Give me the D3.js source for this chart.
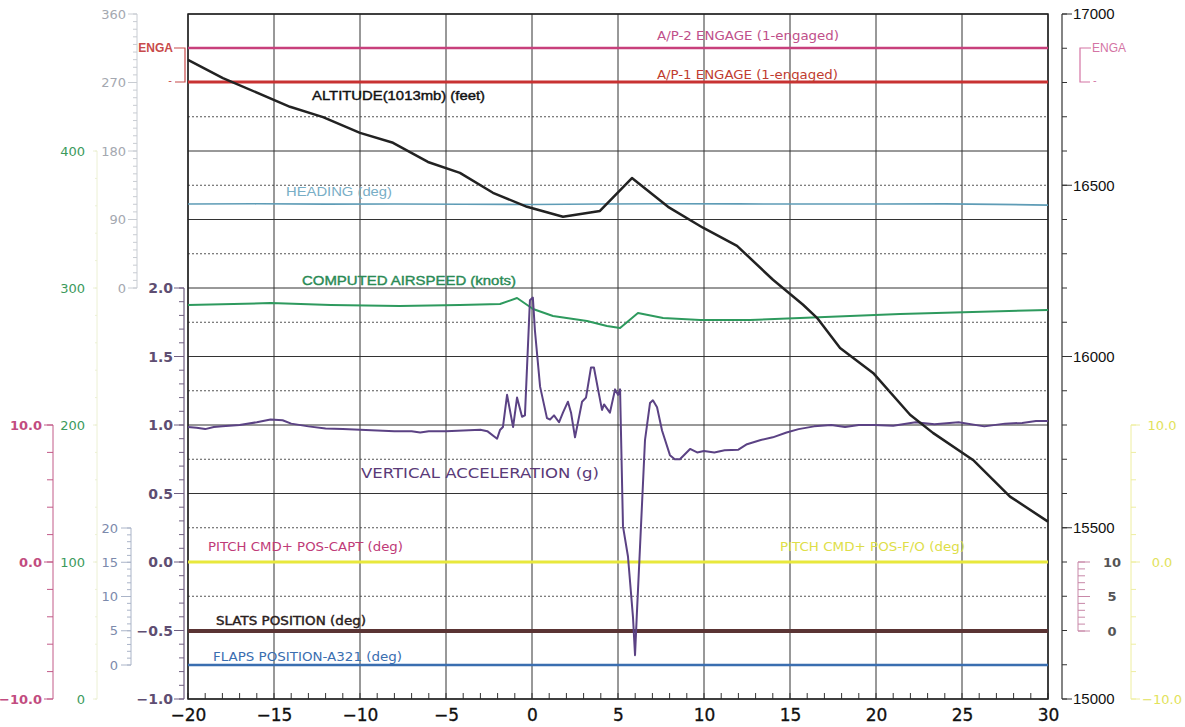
<!DOCTYPE html>
<html>
<head>
<meta charset="utf-8">
<script src="https://cdn.jsdelivr.net/npm/d3@7"></script>
<style>
  body { margin: 0; background: #fff; }
  svg { display: block; }
</style>
</head>
<body>
<script>
// time from event (s)
const timeTicks = [-20, -15, -10, -5, 0, 5, 10, 15, 20, 25, 30];

// ALTITUDE(1013mb) (feet)
const altTime  = [-20, -17.97, -14.07, -12.15, -10, -8.08, -6.05, -4.19, -2.27, -0.29, 1.8, 3.95, 5.81, 7.91, 9.94, 11.92, 14.01, 15.76, 16.57, 17.91, 19.83, 21.98, 23.31, 25.64, 27.79, 30];
const altValue = [16866, 16813, 16729, 16699, 16653, 16624, 16568, 16536, 16478, 16437, 16408, 16425, 16521, 16437, 16376, 16323, 16224, 16151, 16113, 16025, 15952, 15830, 15777, 15698, 15591, 15518];

// HEADING (deg)
const hdgTime  = [-20, -16, -12, -8, -4, 0, 4, 8, 12, 16, 20, 24, 27, 30];
const hdgValue = [110.3, 110.6, 110.2, 110.4, 110.0, 109.8, 110.3, 110.6, 110.5, 110.3, 110.4, 110.5, 109.9, 108.9];

// COMPUTED AIRSPEED (knots)
const spdTime  = [-20, -15.2, -11.7, -7.7, -4.2, -1.86, -0.87, 0.06, 1.22, 3.2, 4.36, 5.12, 6.16, 7.62, 9.77, 12.67, 15.58, 21.4, 30];
const spdValue = [287.6, 289, 287.6, 286.9, 287.6, 288.3, 292.7, 284.7, 279.6, 275.9, 272.3, 270.8, 281.8, 278.1, 276.6, 276.6, 278.1, 281, 284];

// VERTICAL ACCELERATION (g)
const accTime = [-20, -19.5, -19, -18.5, -18, -17, -16, -15.2, -14.5, -14, -13, -12, -11, -10, -9, -8, -7, -6.5, -6, -5, -4, -3, -2.6,
  -2.03, -1.86, -1.69, -1.45, -1.10, -0.87, -0.58, -0.41, -0.12, 0.05, 0.17, 0.47, 0.87, 1.05, 1.28, 1.57, 1.80, 2.09, 2.27, 2.50,
  2.91, 3.14, 3.43, 3.60, 3.84, 4.07, 4.19, 4.53, 4.83, 5.0, 5.12, 5.29, 5.58, 5.87, 5.99, 6.10, 6.28, 6.57, 6.86, 7.03, 7.27, 7.56,
  8.02, 8.3, 8.6, 9.19, 9.6, 10, 10.6, 11.2, 12, 12.5, 13.3, 14, 14.8, 15.5, 16.4, 17.4, 18.2, 19, 19.9, 21, 22.3, 23.4, 24.8, 26.3,
  27.5, 28.5, 29.3, 30];
const accValue = [0.985, 0.98, 0.97, 0.985, 0.99, 1.0, 1.02, 1.04, 1.035, 1.01, 0.99, 0.975, 0.97, 0.965, 0.96, 0.955, 0.955, 0.945, 0.955, 0.955, 0.96, 0.965, 0.955,
  0.90, 0.963, 0.985, 1.22, 0.985, 1.20, 1.06, 1.07, 1.91, 1.93, 1.69, 1.28, 1.05, 1.04, 1.07, 1.02, 1.09, 1.17, 1.09, 0.91,
  1.17, 1.20, 1.42, 1.42, 1.26, 1.11, 1.15, 1.09, 1.26, 1.22, 1.26, 0.26, 0.04, -0.40, -0.68, -0.37, 0.11, 0.89, 1.16, 1.18, 1.13, 0.96,
  0.78, 0.75, 0.75, 0.825, 0.80, 0.81, 0.80, 0.815, 0.82, 0.86, 0.89, 0.91, 0.945, 0.97, 0.99, 1.0, 0.985, 1.0, 1.0, 0.995, 1.02, 1.005, 1.02, 0.99,
  1.01, 1.015, 1.03, 1.03];

// constant discrete traces (start, end values)
const ap2Engage = [1, 1];       // A/P-2 ENGAGE
const ap1Engage = [0, 0];       // A/P-1 ENGAGE
const pitchCapt = [0, 0];       // PITCH CMD+ POS-CAPT (deg)
const pitchFO   = [0, 0];       // PITCH CMD+ POS-F/O (deg)
const slatsPos  = [0, 0];       // SLATS POSITION (deg)
const flapsPos  = [0, 0];       // FLAPS POSITION-A321 (deg)

// axis tick labels
const altTicks   = [15000, 15500, 16000, 16500, 17000];
const accTicks   = [-1.0, -0.5, 0.0, 0.5, 1.0, 1.5, 2.0];
const hdgTicks   = [0, 90, 180, 270, 360];
const spdTicks   = [0, 100, 200, 300, 400];
const pitchTicks = [-10, 0, 10];
const flapTicks  = [0, 5, 10, 15, 20];
const slatTicks  = [0, 5, 10];

const width = 1185, height = 727;
const plot = { left: 188, right: 1048, top: 14, bottom: 699 };

const svg = d3.select('body').append('svg')
    .attr('width', width)
    .attr('height', height);

svg.append('rect').attr('width', width).attr('height', height).attr('fill', '#fff');

// scales
const x = d3.scaleLinear().domain([-20, 30]).range([plot.left, plot.right]);
const yAlt = d3.scaleLinear().domain([15000, 17000]).range([plot.bottom, plot.top]);
const yAcc = d3.scaleLinear().domain([-1, 2]).range([699, 288]);
const yHdg = d3.scaleLinear().domain([0, 360]).range([288, 14]);
const ySpd = d3.scaleLinear().domain([0, 400]).range([699, 151]);
const yPitch = d3.scaleLinear().domain([-10, 10]).range([699, 425]);
const yFlap = d3.scaleLinear().domain([0, 20]).range([665, 528]);
const ySlat = d3.scaleLinear().domain([0, 10]).range([631, 562]);
const yEng = d3.scaleLinear().domain([0, 1]).range([82, 48]);

// grid
const grid = svg.append('g');
d3.range(15000, 17001, 100).forEach(v => {
    const solid = v % 200 === 0;
    grid.append('line')
        .attr('x1', plot.left).attr('x2', plot.right)
        .attr('y1', yAlt(v)).attr('y2', yAlt(v))
        .attr('stroke', solid ? '#333' : '#555')
        .attr('stroke-width', 1)
        .attr('stroke-dasharray', solid ? null : '2,2');
});
timeTicks.forEach(t => {
    grid.append('line')
        .attr('x1', x(t)).attr('x2', x(t))
        .attr('y1', plot.top).attr('y2', plot.bottom)
        .attr('stroke', '#333').attr('stroke-width', 1);
});
// small second ticks on the bottom edge
d3.range(-20, 31, 1).forEach(t => {
    grid.append('line')
        .attr('x1', x(t)).attr('x2', x(t))
        .attr('y1', plot.bottom - 6).attr('y2', plot.bottom)
        .attr('stroke', '#333');
});
grid.append('rect')
    .attr('x', plot.left).attr('y', plot.top)
    .attr('width', plot.right - plot.left).attr('height', plot.bottom - plot.top)
    .attr('fill', 'none').attr('stroke', '#222').attr('stroke-width', 1.5);

// x axis labels
svg.append('g')
    .attr('transform', `translate(0,${plot.bottom})`)
    .call(d3.axisBottom(x).tickValues(timeTicks).tickSize(0).tickPadding(10).tickFormat(d3.format('d')))
    .call(g => g.select('.domain').remove())
    .selectAll('text')
    .attr('font-family', 'DejaVu Sans, Verdana, sans-serif')
    .attr('font-size', 17)
    .attr('fill', '#111')
    .attr('stroke', '#111')
    .attr('stroke-width', 0.3);

// generic vertical axis
function vAxis(opt) {
    const g = svg.append('g').attr('transform', `translate(${opt.x},0)`);
    const dir = opt.side === 'left' ? -1 : 1;
    const [y0, y1] = opt.scale.range();
    g.append('line').attr('x1', 0).attr('x2', 0).attr('y1', y0).attr('y2', y1)
        .attr('stroke', opt.lineColor).attr('stroke-width', opt.lineWidth || 1);
    if (opt.minor) {
        opt.minor.forEach(v => {
            g.append('line').attr('x1', 0).attr('x2', dir * opt.minorLen)
                .attr('y1', opt.scale(v)).attr('y2', opt.scale(v))
                .attr('stroke', opt.lineColor).attr('stroke-width', 1);
        });
    }
    opt.ticks.forEach(v => {
        g.append('line').attr('x1', 0).attr('x2', dir * opt.majorLen)
            .attr('y1', opt.scale(v)).attr('y2', opt.scale(v))
            .attr('stroke', opt.lineColor).attr('stroke-width', 1);
    });
    g.selectAll('text.lbl').data(opt.ticks).enter().append('text')
        .attr('class', 'lbl')
        .attr('x', opt.labelX)
        .attr('y', d => opt.scale(d))
        .attr('dy', '0.36em')
        .attr('text-anchor', opt.anchor)
        .attr('font-family', opt.font || 'DejaVu Sans, Verdana, sans-serif')
        .attr('font-size', opt.size)
        .attr('font-weight', opt.weight || 'normal')
        .attr('fill', opt.color)
        .text(opt.fmt);
    return g;
}

// left: vertical acceleration
vAxis({ scale: yAcc, x: 184, side: 'left', ticks: accTicks, minor: d3.range(-1, 2.001, 0.1),
    majorLen: 10, minorLen: 5, labelX: -11, anchor: 'end', size: 14, weight: 'bold',
    color: '#5e4e72', lineColor: '#6e5e80', lineWidth: 1.2, fmt: d3.format('.1f') });

// left: heading
vAxis({ scale: yHdg, x: 137, side: 'left', ticks: hdgTicks, minor: d3.range(0, 361, 10),
    majorLen: 9, minorLen: 4, labelX: -11, anchor: 'end', size: 13,
    color: '#a4a8b0', lineColor: '#c8ccd2', fmt: d3.format('d') });

// left: airspeed
vAxis({ scale: ySpd, x: 97, side: 'left', ticks: spdTicks, minor: d3.range(0, 401, 20),
    majorLen: 4, minorLen: 2, labelX: -12, anchor: 'end', size: 13,
    color: '#3c9a5c', lineColor: '#ecf0d4', fmt: d3.format('d') });

// left: pitch cmd capt
vAxis({ scale: yPitch, x: 53, side: 'left', ticks: pitchTicks, minor: d3.range(-10, 10.1, 2),
    majorLen: 9, minorLen: 6, labelX: -11, anchor: 'end', size: 13, weight: 'bold',
    color: '#c24c80', lineColor: '#c25a88', fmt: d3.format('.1f') });

// left: flaps
vAxis({ scale: yFlap, x: 131, side: 'left', ticks: flapTicks, minor: d3.range(0, 20.1, 1),
    majorLen: 10, minorLen: 4, labelX: -13, anchor: 'end', size: 13,
    color: '#7c8aac', lineColor: '#aab4c8', fmt: d3.format('d') });

// right: altitude
vAxis({ scale: yAlt, x: 1062, side: 'right', ticks: altTicks, minor: d3.range(15000, 17001, 100),
    majorLen: 10, minorLen: 5, labelX: 11, anchor: 'start', size: 15, font: 'Liberation Sans, Arial, sans-serif',
    color: '#111', lineColor: '#333', lineWidth: 1.2, fmt: d3.format('d') });

// right: slats
vAxis({ scale: ySlat, x: 1078, side: 'right', ticks: slatTicks, minor: d3.range(0, 10.1, 1),
    majorLen: 12, minorLen: 7, labelX: 34, anchor: 'middle', size: 13, weight: 'bold',
    color: '#555', lineColor: '#c888a8', fmt: d3.format('d') });

// right: pitch cmd f/o
vAxis({ scale: yPitch, x: 1131, side: 'right', ticks: pitchTicks, minor: d3.range(-10, 10.1, 2),
    majorLen: 9, minorLen: 5, labelX: 31, anchor: 'middle', size: 13,
    color: '#e2e25a', lineColor: '#eeeea0', fmt: d3.format('.1f') });

// ENGA brackets
function engaBracket(xLine, dir, color, weight) {
    const g = svg.append('g');
    g.append('path')
        .attr('d', `M${xLine + dir * 11},${yEng(1)}H${xLine}V${yEng(0)}H${xLine + dir * 10}`)
        .attr('fill', 'none').attr('stroke', color).attr('stroke-width', 1.2);
    g.append('text')
        .attr('x', xLine + dir * 12).attr('y', yEng(1)).attr('dy', '0.36em')
        .attr('text-anchor', dir < 0 ? 'end' : 'start')
        .attr('font-family', 'Liberation Sans, Arial, sans-serif')
        .attr('font-size', 12).attr('font-weight', weight)
        .attr('fill', color).text('ENGA');
    g.append('text')
        .attr('x', xLine + dir * 13).attr('y', yEng(0) - 2).attr('dy', '0.36em')
        .attr('text-anchor', dir < 0 ? 'end' : 'start')
        .attr('font-family', 'Liberation Sans, Arial, sans-serif')
        .attr('font-size', 11).attr('fill', color).text('-');
}
engaBracket(185, -1, '#c84a4a', 'bold');
engaBracket(1080, 1, '#d474a4', 'normal');

// traces
const lines = svg.append('g').attr('fill', 'none').attr('stroke-linejoin', 'round');
function trace(times, values, yScale, color, w) {
    const pts = times.map((t, i) => [x(t), yScale(values[i])]);
    lines.append('path')
        .attr('d', d3.line()(pts))
        .attr('stroke', color).attr('stroke-width', w);
}
const ends = [-20, 30];
trace(ends, flapsPos, yFlap, '#3a6eb0', 2.5);
trace(ends, slatsPos, ySlat, '#5a3434', 4);
trace(ends, pitchCapt, yPitch, '#c84080', 2);
trace(ends, pitchFO, yPitch, '#e8e83c', 3);
trace(ends, ap1Engage, yEng, '#c83232', 3);
trace(ends, ap2Engage, yEng, '#c8407c', 2.5);
trace(hdgTime, hdgValue, yHdg, '#5e9cb6', 1.6);
trace(spdTime, spdValue, ySpd, '#2e9a5e', 2);
trace(accTime, accValue, yAcc, '#5b4284', 2);
trace(altTime, altValue, yAlt, '#222', 2.5);

// series labels
const labels = [
    { text: 'A/P-2 ENGAGE (1-engaged)', x: 657, y: 40, w: 182, color: '#c0508a', size: 12, font: 'DejaVu Sans, Verdana, sans-serif' },
    { text: 'A/P-1 ENGAGE (1-engaged)', x: 657, y: 79, w: 181, color: '#c03c30', size: 12, font: 'DejaVu Sans, Verdana, sans-serif' },
    { text: 'ALTITUDE(1013mb) (feet)', x: 312, y: 100, w: 173, color: '#111', size: 13, font: 'Liberation Sans, Arial, sans-serif', bold: true },
    { text: 'HEADING (deg)', x: 286, y: 196, w: 106, color: '#78aec6', size: 12, font: 'Liberation Sans, Arial, sans-serif' },
    { text: 'COMPUTED AIRSPEED (knots)', x: 302, y: 285, w: 214, color: '#2a8a55', size: 13, font: 'Liberation Sans, Arial, sans-serif', bold: true },
    { text: 'VERTICAL ACCELERATION (g)', x: 361, y: 478, w: 238, color: '#5a3a78', size: 14, font: 'DejaVu Sans, Verdana, sans-serif' },
    { text: 'PITCH CMD+ POS-CAPT (deg)', x: 208, y: 551, w: 195, color: '#c03a78', size: 12, font: 'DejaVu Sans, Verdana, sans-serif' },
    { text: 'PITCH CMD+ POS-F/O (deg)', x: 780, y: 551, w: 185, color: '#dede48', size: 12, font: 'DejaVu Sans, Verdana, sans-serif' },
    { text: 'SLATS POSITION (deg)', x: 216, y: 625, w: 150, color: '#2a2020', size: 12, font: 'DejaVu Sans, Verdana, sans-serif', bold: true },
    { text: 'FLAPS POSITION-A321 (deg)', x: 213, y: 661, w: 189, color: '#3a6eb0', size: 12, font: 'DejaVu Sans, Verdana, sans-serif' }
];
svg.append('g').selectAll('text').data(labels).enter().append('text')
    .attr('x', d => d.x).attr('y', d => d.y)
    .attr('font-family', d => d.font)
    .attr('font-size', d => d.size)
    .attr('fill', d => d.color)
    .attr('stroke', d => d.bold ? d.color : null)
    .attr('stroke-width', d => d.bold ? 0.4 : null)
    .attr('textLength', d => d.w)
    .attr('lengthAdjust', 'spacingAndGlyphs')
    .text(d => d.text);
</script>
</body>
</html>
